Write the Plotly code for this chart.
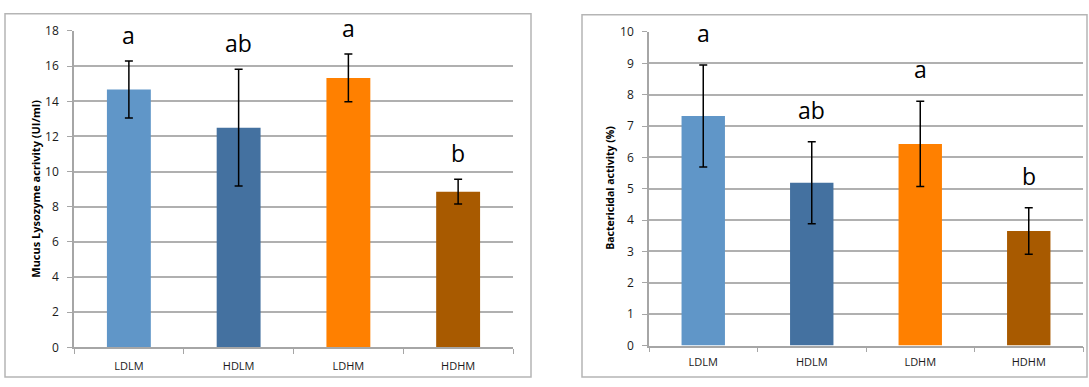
import plotly.graph_objects as go

categories = ["LDLM", "HDLM", "LDHM", "HDHM"]
colors = ["#6096c8", "#4471a0", "#ff8000", "#a85a00"]

lysozyme = [14.67, 12.5, 15.33, 8.86]
lysozyme_err = [1.62, 3.32, 1.36, 0.7]
lysozyme_letters = ["a", "ab", "a", "b"]

bactericidal = [7.32, 5.19, 6.43, 3.65]
bactericidal_err = [1.63, 1.31, 1.36, 0.74]
bactericidal_letters = ["a", "ab", "a", "b"]

W, H = 1089, 387
FONT = "Open Sans, sans-serif"

fig = go.Figure()

fig.add_trace(go.Bar(
    x=categories, y=lysozyme, marker=dict(color=colors, line=dict(width=0)),
    width=0.4,
    error_y=dict(type="data", array=lysozyme_err, color="black", thickness=1.5, width=4),
    xaxis="x", yaxis="y", showlegend=False))
fig.add_trace(go.Bar(
    x=categories, y=bactericidal, marker=dict(color=colors, line=dict(width=0)),
    width=0.4,
    error_y=dict(type="data", array=bactericidal_err, color="black", thickness=1.5, width=4),
    xaxis="x2", yaxis="y2", showlegend=False))

def px_x(p): return p / W
def px_y(p): return 1 - p / H

line_common = dict(showline=True, linecolor="#a6a6a6", linewidth=1.5,
                   ticks="outside", tickcolor="#a6a6a6", ticklen=5)
xfont = dict(family=FONT, size=11, color="#1a1a1a")
yfont = dict(family=FONT, size=12, color="#1a1a1a")

fig.update_layout(
    width=W, height=H, margin=dict(l=0, r=0, t=0, b=0),
    plot_bgcolor="white", paper_bgcolor="white",
    xaxis=dict(domain=[px_x(74), px_x(513)], anchor="y", tickson="boundaries",
               showgrid=False, ticklabelstandoff=8, tickfont=xfont, **line_common),
    yaxis=dict(domain=[px_y(354), px_y(23)], anchor="x", range=[0, 18], dtick=2,
               showgrid=True, gridcolor="#b0b0b0", gridwidth=1.5, zeroline=False,
               ticklabelstandoff=6, tickfont=yfont, **line_common),
    xaxis2=dict(domain=[px_x(649), px_x(1083)], anchor="y2", tickson="boundaries",
                showgrid=False, ticklabelstandoff=6, tickfont=xfont, **line_common),
    yaxis2=dict(domain=[px_y(352), px_y(24)], anchor="x2", range=[0, 10], dtick=1,
                showgrid=True, gridcolor="#b0b0b0", gridwidth=1.5, zeroline=False,
                ticklabelstandoff=6, tickfont=yfont, **line_common),
)

annotations = []
for c, v, e, t in zip(categories, lysozyme, lysozyme_err, lysozyme_letters):
    annotations.append(dict(x=c, y=v + e, xref="x", yref="y", text=t, showarrow=False,
                            yanchor="bottom", yshift=8,
                            font=dict(family=FONT, size=23, color="black")))
for c, v, e, t in zip(categories, bactericidal, bactericidal_err, bactericidal_letters):
    annotations.append(dict(x=c, y=v + e, xref="x2", yref="y2", text=t, showarrow=False,
                            yanchor="bottom", yshift=14,
                            font=dict(family=FONT, size=23, color="black")))

annotations.append(dict(x=px_x(36), y=px_y(188), xref="paper", yref="paper",
                        xanchor="center", yanchor="middle",
                        text="<b>Mucus Lysozyme acrivity (UI/ml)</b>", textangle=-90,
                        showarrow=False, font=dict(family=FONT, size=11, color="black")))
annotations.append(dict(x=px_x(610), y=px_y(187), xref="paper", yref="paper",
                        xanchor="center", yanchor="middle",
                        text="<b>Bactericidal activity (%)</b>", textangle=-90,
                        showarrow=False, font=dict(family=FONT, size=10.5, color="black")))
fig.update_layout(annotations=annotations)

shapes = [
    dict(type="rect", xref="paper", yref="paper", x0=px_x(5), x1=px_x(531),
         y0=px_y(385), y1=px_y(5), line=dict(color="#b5b5b5", width=1.5)),
    dict(type="rect", xref="paper", yref="paper", x0=px_x(582), x1=px_x(1087),
         y0=px_y(385), y1=px_y(6), line=dict(color="#b5b5b5", width=1.5)),
]
fig.update_layout(shapes=shapes)

fig.write_html("out.html", config={"displayModeBar": False},
               post_script="document.body.style.margin='0';document.body.style.overflow='hidden';")
